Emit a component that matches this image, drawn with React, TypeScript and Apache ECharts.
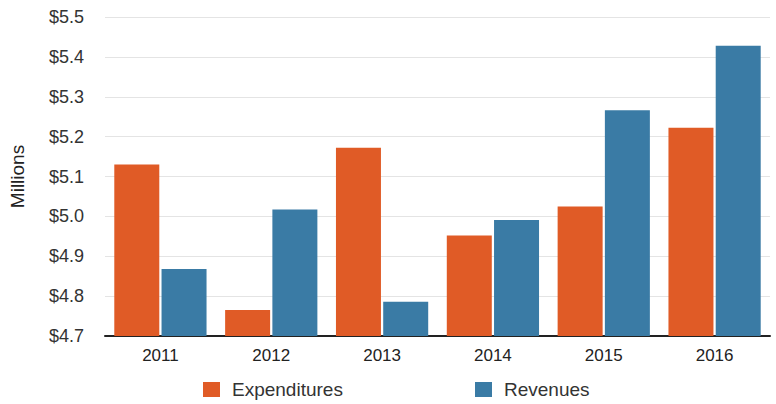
import React, { useEffect, useRef } from "react";
import * as echarts from "echarts";

const years = ["2011", "2012", "2013", "2014", "2015", "2016"];
const expenditures = [5.13, 4.765, 5.172, 4.952, 5.025, 5.222];
const revenues = [4.868, 5.017, 4.786, 4.991, 5.266, 5.428];
const yMin = 4.7;
const yMax = 5.5;
const yStep = 0.1;

const ORANGE = "#E05B26";
const BLUE = "#3A7BA5";
const FONT = "Liberation Sans, Arial, Helvetica, sans-serif";

export default function App() {
  const ref = useRef<HTMLDivElement>(null);
  useEffect(() => {
    if (!ref.current) return;
    const chart = echarts.init(ref.current, undefined, { renderer: "svg" });
    const legendBase = {
      top: 375,
      itemWidth: 17,
      itemHeight: 15,
      icon: "rect",
      textStyle: { fontFamily: FONT, fontSize: 19, color: "#333", padding: [0, 0, 0, 7] },
    };
    chart.setOption({
      animation: false,
      backgroundColor: "#ffffff",
      grid: { left: 103, right: 6, top: 17, bottom: 68, containLabel: false },
      legend: [
        { ...legendBase, data: ["Expenditures"], left: 198 },
        { ...legendBase, data: ["Revenues"], left: 470 },
      ],
      xAxis: {
        type: "category",
        data: years,
        axisLine: { show: true, lineStyle: { color: "#222", width: 2 } },
        axisTick: { show: false },
        axisLabel: { fontFamily: FONT, fontSize: 17, color: "#222", margin: 11 },
      },
      yAxis: {
        type: "value",
        min: yMin,
        max: yMax,
        interval: yStep,
        name: "Millions",
        nameLocation: "middle",
        nameGap: 78,
        nameTextStyle: { fontFamily: FONT, fontSize: 19, color: "#222" },
        axisLine: { show: false },
        axisTick: { show: false },
        splitLine: { lineStyle: { color: "#e4e4e4", width: 1 } },
        axisLabel: {
          fontFamily: FONT,
          fontSize: 18,
          color: "#333",
          margin: 21,
          formatter: (v: number) => "$" + v.toFixed(1),
        },
      },
      series: [
        {
          name: "Expenditures",
          type: "bar",
          data: expenditures,
          barWidth: 45,
          barGap: "5%",
          itemStyle: { color: ORANGE },
        },
        {
          name: "Revenues",
          type: "bar",
          data: revenues,
          barWidth: 45,
          barGap: "5%",
          itemStyle: { color: BLUE },
        },
      ],
    });
    return () => chart.dispose();
  }, []);
  return (
    <div
      ref={ref}
      style={{ position: "fixed", left: 0, top: 0, width: 776, height: 404, background: "#fff" }}
    />
  );
}
